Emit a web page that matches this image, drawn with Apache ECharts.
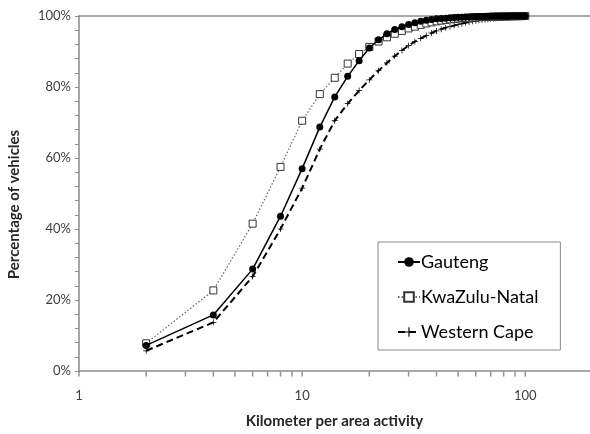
<!DOCTYPE html>
<html>
<head>
<meta charset="utf-8">
<script src="https://cdn.jsdelivr.net/npm/echarts@6/dist/echarts.min.js"></script>
<style>html,body{margin:0;padding:0;background:#fff}#c{width:590px;height:434px}</style>
</head>
<body>
<div id="c"></div>
<script>
const distances = [2,4,6,8,10,12,14,16,18,20,22,24,26,28,30,32,34,36,38,40,42,44,46,48,50,52,54,56,58,60,62,64,66,68,70,72,74,76,78,80,82,84,86,88,90,92,94,96,98,100];
const gauteng = [7.2,15.8,28.7,43.6,57.0,68.7,77.2,83.0,87.4,91.0,93.3,95.0,96.2,97.0,97.6,98.1,98.5,98.8,99.0,99.2,99.3,99.4,99.5,99.56,99.62,99.67,99.71,99.75,99.78,99.81,99.83,99.85,99.87,99.89,99.9,99.91,99.92,99.93,99.94,99.95,99.96,99.96,99.97,99.97,99.98,99.98,99.99,99.99,99.99,100];
const kwazulu = [7.8,22.7,41.5,57.5,70.5,78.0,82.6,86.6,89.3,91.3,92.8,94.0,95.0,95.8,96.5,97.0,97.5,97.9,98.2,98.5,98.7,98.9,99.05,99.2,99.3,99.4,99.45,99.5,99.55,99.6,99.65,99.7,99.72,99.75,99.78,99.8,99.82,99.84,99.86,99.88,99.9,99.91,99.92,99.93,99.94,99.95,99.96,99.97,99.98,100];
const westernCape = [5.7,13.7,26.6,40.0,51.5,62.5,70.5,75.3,79.0,82.0,84.6,86.8,88.7,90.3,91.7,92.8,93.7,94.5,95.2,95.8,96.3,96.7,97.0,97.3,97.6,97.85,98.1,98.3,98.5,98.65,98.8,98.9,99.0,99.1,99.2,99.28,99.36,99.43,99.5,99.56,99.62,99.67,99.72,99.77,99.81,99.85,99.89,99.93,99.96,100];
const xTickValues = [1,2,3,4,5,6,7,8,9,10,20,30,40,50,60,70,80,90,100];
const xLabelValues = [1,10,100];

const pair = arr => distances.map((d,i)=>[d,arr[i]]);
const axisGray = '#8a8a8a';
const font = 'Lato, "Open Sans", sans-serif';
const chart = echarts.init(document.getElementById('c'));
chart.setOption({
  animation:false,
  grid:{left:79, top:16, right:0, bottom:61},
  xAxis:[{
    type:'log', min:1, max:195, logBase:10,
    name:'Kilometer per area activity', nameLocation:'middle', nameGap:43,
    nameTextStyle:{fontFamily:font, fontWeight:'bold', fontSize:15, color:'#262626'},
    axisLine:{lineStyle:{color:axisGray, width:1.5}},
    axisTick:{show:false},
    axisLabel:{customValues:xLabelValues, fontFamily:font, fontSize:13, color:'#404040', margin:18},
    splitLine:{show:false}, minorTick:{show:false}
  },{
    type:'log', min:1, max:195, position:'top',
    axisLine:{show:true, lineStyle:{color:axisGray, width:1.5}},
    axisTick:{show:false}, axisLabel:{show:false}, splitLine:{show:false}
  }],
  yAxis:{
    type:'value', min:0, max:100, interval:20,
    axisLine:{show:true, lineStyle:{color:axisGray, width:1.5}},
    axisTick:{show:true, length:4, lineStyle:{color:axisGray}},
    minorTick:{show:true, splitNumber:5, length:4, lineStyle:{color:axisGray}},
    axisLabel:{formatter:'{value}%', fontFamily:font, fontSize:13, color:'#404040', margin:8},
    splitLine:{show:false}
  },
  legend:{
    orient:'vertical', left:378, top:242,
    padding:[10,22,8,19], itemGap:15, itemWidth:22, itemHeight:12,
    borderColor:'#8a8a8a', borderWidth:1, backgroundColor:'#fff',
    textStyle:{fontFamily:font, fontSize:18, color:'#000', lineHeight:20, padding:[0,0,0,-4]},
    data:['Gauteng','KwaZulu-Natal','Western Cape']
  },
  series:[
    {name:'Gauteng', type:'line', data:pair(gauteng), symbol:'circle', symbolSize:7,
     itemStyle:{color:'#000'}, lineStyle:{color:'#000', width:1.5}, z:3},
    {name:'KwaZulu-Natal', type:'line', data:pair(kwazulu), symbol:'rect', symbolSize:7,
     itemStyle:{color:'#fff', borderColor:'#333', borderWidth:1}, lineStyle:{color:'#666', width:1.2, type:[1.5,2]}, z:2},
    {name:'Western Cape', type:'line', data:pair(westernCape), symbol:'path://M4.4,0h1.2v4.4h4.4v1.2h-4.4v4.4h-1.2v-4.4h-4.4v-1.2h4.4z', symbolSize:6,
     itemStyle:{color:'#000'}, lineStyle:{color:'#000', width:2, type:[7,4]}, z:1},
    {name:'xMinorTicks', type:'scatter', data:xTickValues.map(v=>[v,0]), symbol:'rect',
     symbolSize:[1.5,5], symbolOffset:[0,3], clip:false, silent:true, z:10,
     itemStyle:{color:'#7a7a7a'}}
  ]
});
const pm = chart.convertToPixel({seriesIndex:0}, [1, 50]);
chart.setOption({graphic:{elements:[{
  type:'text', x:14, y:pm[1]+11, rotation:Math.PI/2, silent:true,
  style:{text:'Percentage of vehicles', fontFamily:font, fontWeight:'bold', fontSize:15, fill:'#262626', align:'center', verticalAlign:'middle'}
}]}});
</script>
</body>
</html>
